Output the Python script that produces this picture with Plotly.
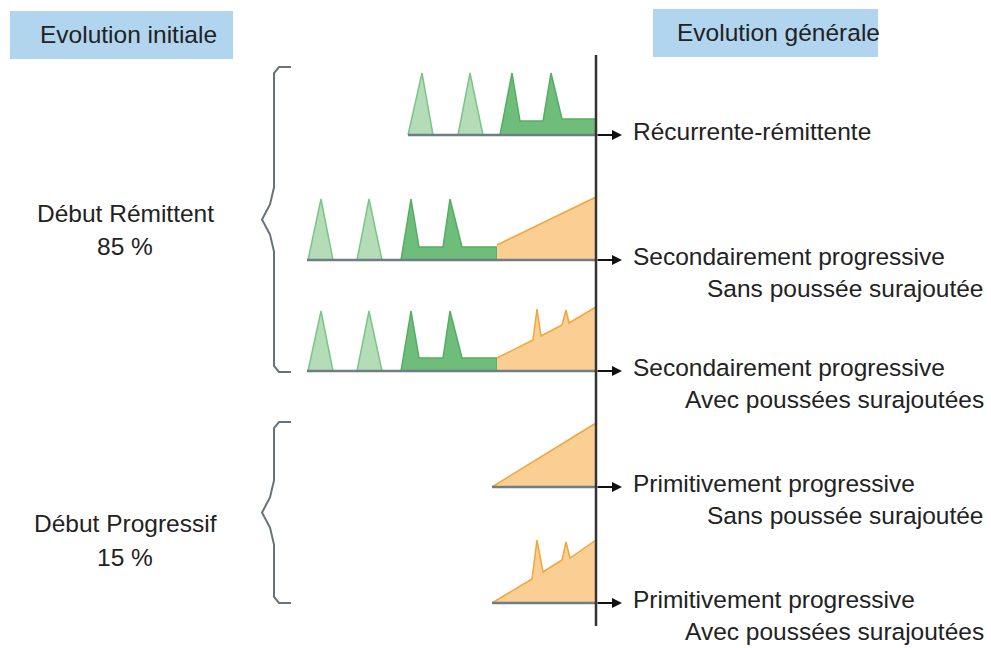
import plotly.graph_objects as go

# ---------------- data (schematic profiles, x = time, h = height above baseline) ----------------
row_names = ["Récurrente-rémittente", "Secondairement progressive", "Secondairement progressive",
             "Primitivement progressive", "Primitivement progressive"]
row_sub = ["", "Sans poussée surajoutée", "Avec poussées surajoutées",
           "Sans poussée surajoutée", "Avec poussées surajoutées"]
row_base = [135, 260, 371, 487, 603]
row_start = [408, 307, 307, 492, 492]
time_end = 596

# light green (early relapses) peaks: (start, apex, end, height)
light_peaks = [
    [(408, 422, 433, 62), (458, 470, 483, 62)],
    [(308, 321, 333, 61), (357, 369, 382, 61)],
    [(308, 321, 333, 60), (357, 369, 382, 60)],
    [], [],
]
# dark green relapse-remitting block (x, h)
dark_x = [[500, 512, 520, 543, 551, 562, 596],
          [401, 411, 419, 443, 450, 462, 497],
          [401, 411, 419, 443, 450, 462, 497],
          None, None]
dark_h = [[0, 62, 14, 14, 62, 16, 16],
          [0, 61, 13, 13, 61, 13, 13],
          [0, 60, 13, 13, 60, 13, 13],
          None, None]
# orange progressive phase (x, h)
prog_x = [None,
          [497, 596],
          [497, 533, 537, 541, 562, 566, 569, 596],
          [492, 596],
          [492, 532, 537, 543, 562, 566, 570, 596]]
prog_h = [None,
          [15, 63],
          [13, 31, 62, 35, 46, 61, 48, 64],
          [0, 64],
          [0, 24, 63, 31, 43, 61, 45, 63]]

groups = ["Début Rémittent", "Début Progressif"]
group_pct = ["85 %", "15 %"]
group_span = [(67, 372), (422, 603)]
headers = ["Evolution initiale", "Evolution générale"]

# ---------------- styles ----------------
LIGHT_FILL, LIGHT_LINE = "#b3dcb7", "#7cc489"
DARK_FILL, DARK_LINE = "#6ebd7b", "#55ad63"
ORANGE_FILL, ORANGE_LINE = "#fbcf94", "#f2a53a"
FONT = "Liberation Sans, Arial, sans-serif"
FS = 24.5
TXT = "#222222"

fig = go.Figure()

for i, base in enumerate(row_base):
    for (a, b, c, h) in light_peaks[i]:
        fig.add_trace(go.Scatter(x=[a, b, c, a], y=[base, base - h, base, base], fill="toself",
                                 fillcolor=LIGHT_FILL, line=dict(color=LIGHT_LINE, width=1.5),
                                 mode="lines", hoverinfo="skip", showlegend=False))
    if dark_x[i] is not None:
        xs = dark_x[i] + [dark_x[i][-1], dark_x[i][0]]
        ys = [base - h for h in dark_h[i]] + [base, base]
        fig.add_trace(go.Scatter(x=xs, y=ys, fill="toself", fillcolor=DARK_FILL,
                                 line=dict(color=DARK_LINE, width=1.5), mode="lines",
                                 hoverinfo="skip", showlegend=False))
    if prog_x[i] is not None:
        xs = prog_x[i] + [prog_x[i][-1], prog_x[i][0]]
        ys = [base - h for h in prog_h[i]] + [base, base]
        fig.add_trace(go.Scatter(x=xs, y=ys, fill="toself", fillcolor=ORANGE_FILL,
                                 line=dict(color=ORANGE_FILL, width=0), mode="lines",
                                 hoverinfo="skip", showlegend=False))
        fig.add_trace(go.Scatter(x=prog_x[i], y=[base - h for h in prog_h[i]],
                                 line=dict(color=ORANGE_LINE, width=1.5), mode="lines",
                                 hoverinfo="skip", showlegend=False))
    fig.add_trace(go.Scatter(x=[row_start[i], time_end], y=[base, base], mode="lines",
                             line=dict(color="#6f7d85", width=2.5), hoverinfo="skip", showlegend=False))
    fig.add_annotation(x=622, y=base, ax=time_end, ay=base, xref="x", yref="y", axref="x", ayref="y",
                       showarrow=True, arrowhead=2, arrowsize=1, arrowwidth=2, arrowcolor="#111111", text="")
    fig.add_annotation(x=631, y=base - 4, text=row_names[i], xanchor="left", yanchor="middle",
                       showarrow=False, font=dict(family=FONT, size=FS, color=TXT))
    if row_sub[i]:
        fig.add_annotation(x=986, y=base + 28, text=row_sub[i], xanchor="right", yanchor="middle",
                           showarrow=False, font=dict(family=FONT, size=FS, color=TXT))

# vertical time axis
fig.add_trace(go.Scatter(x=[time_end, time_end], y=[55, 626], mode="lines",
                         line=dict(color="#333333", width=2.5), hoverinfo="skip", showlegend=False))

# braces and group labels
label_y = [(213, 246), (523, 557)]
for g, (y0, y1) in enumerate(group_span):
    ym = (y0 + y1) / 2
    bx = [291, 279, 274, 274, 270, 262, 270, 274, 274, 279, 291]
    by = [y0, y0, y0 + 6, ym - 32, ym - 15, ym, ym + 15, ym + 32, y1 - 6, y1, y1]
    fig.add_trace(go.Scatter(x=bx, y=by, mode="lines", line=dict(color="#66737a", width=2),
                             hoverinfo="skip", showlegend=False))
    fig.add_annotation(x=125, y=label_y[g][0], text=groups[g], showarrow=False,
                       font=dict(family=FONT, size=FS, color=TXT))
    fig.add_annotation(x=125, y=label_y[g][1], text=group_pct[g], showarrow=False,
                       font=dict(family=FONT, size=FS, color=TXT))

# header boxes
fig.add_shape(type="rect", x0=10, x1=233, y0=11, y1=59, xref="x", yref="y",
              fillcolor="#b1d5ef", line=dict(width=0), layer="below")
fig.add_shape(type="rect", x0=653, x1=878, y0=9, y1=57, xref="x", yref="y",
              fillcolor="#b1d5ef", line=dict(width=0), layer="below")
fig.add_annotation(x=128, y=34, text=headers[0], showarrow=False,
                   font=dict(family=FONT, size=FS, color=TXT))
fig.add_annotation(x=675, y=32, text=headers[1], xanchor="left", showarrow=False,
                   font=dict(family=FONT, size=FS, color=TXT))

fig.update_xaxes(range=[0, 991], visible=False, fixedrange=True)
fig.update_yaxes(range=[648, 0], visible=False, fixedrange=True)
fig.update_layout(width=991, height=648, margin=dict(l=0, r=0, t=0, b=0),
                  plot_bgcolor="white", paper_bgcolor="white", showlegend=False)

fig.write_html("out.html", config={"displayModeBar": False},
               post_script="document.body.style.margin='0';document.body.style.overflow='hidden';")
